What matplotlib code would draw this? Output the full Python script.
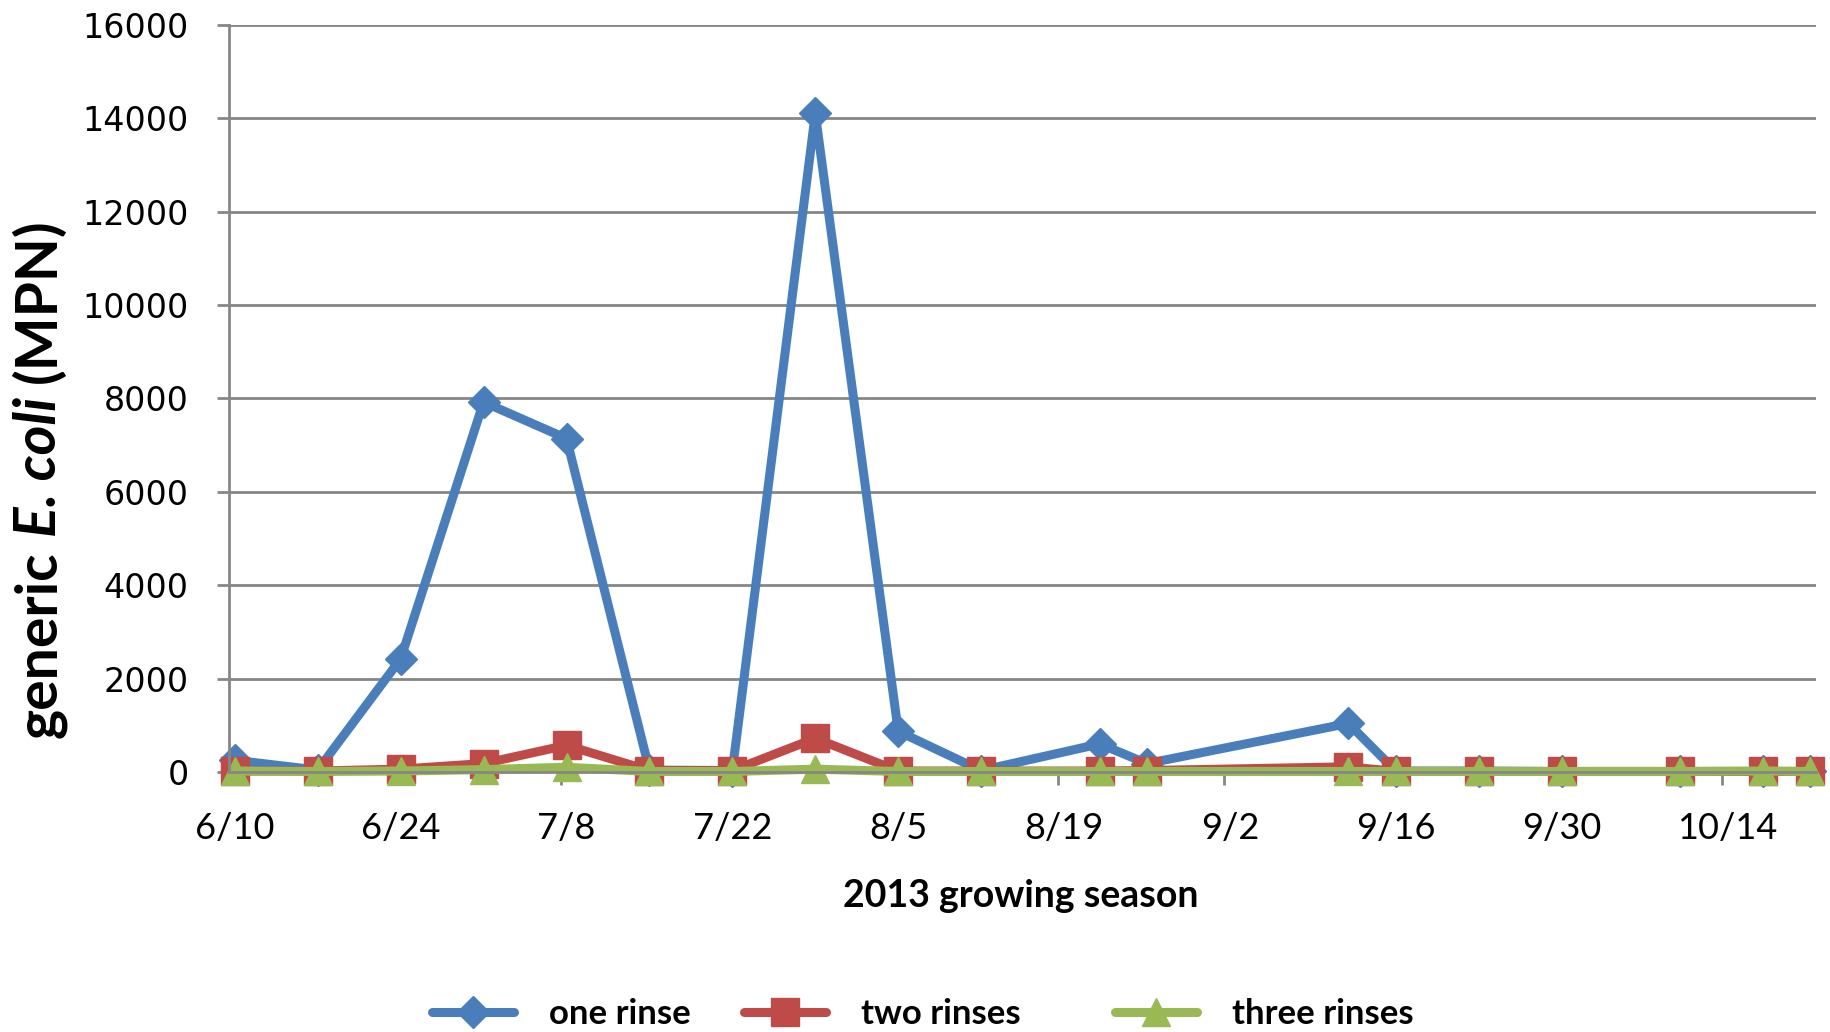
import numpy as np
import pandas as pd
import matplotlib
matplotlib.use("Agg")
import matplotlib.pyplot as plt
import matplotlib.dates as mdates

# sampling dates over the 2013 season
sample_dates = pd.to_datetime([
    "2013-06-10", "2013-06-17", "2013-06-24", "2013-07-01", "2013-07-08",
    "2013-07-15", "2013-07-22", "2013-07-29", "2013-08-05", "2013-08-12",
    "2013-08-22", "2013-08-26", "2013-09-12", "2013-09-16", "2013-09-23",
    "2013-09-30", "2013-10-10", "2013-10-17", "2013-10-21",
])

# generic E. coli counts (MPN)
one_rinse = [250, 40, 2420, 7920, 7140, 40, 30, 14100, 870, 30,
             600, 180, 1040, 20, 20, 10, 10, 10, 10]
two_rinses = [20, 20, 60, 180, 570, 30, 30, 720, 20, 20,
              20, 30, 110, 10, 10, 10, 10, 10, 10]
three_rinses = [20, 10, 20, 50, 100, 10, 10, 60, 10, 10,
                10, 10, 10, 10, 10, 10, 10, 20, 10]

tick_dates = pd.date_range("2013-06-10", "2013-10-14", freq="14D")
tick_labels = [f"{d.month}/{d.day}" for d in tick_dates]
y_ticks = np.arange(0, 16001, 2000)

plt.rcParams["font.family"] = ["Lato", "DejaVu Sans"]

W, H = 1831, 1032
grid_gray = "#868686"

fig = plt.figure(figsize=(W / 100, H / 100), dpi=100)
ax = fig.add_axes([0.125, 0.252, 0.867, 0.724])

# each point sits in the middle of its day
x = mdates.date2num(sample_dates) + 0.5

series = [
    (one_rinse, "one rinse", "#4A7EBB", "D", 16),
    (two_rinses, "two rinses", "#BE4B48", "s", 20),
    (three_rinses, "three rinses", "#98B954", "^", 20),
]
lines = []
for vals, label, color, marker, ms in series:
    ln, = ax.plot(x, vals, color=color, lw=6.5, marker=marker, ms=ms,
                  mfc=color, mec=color, label=label, clip_on=False,
                  solid_capstyle="round", solid_joinstyle="round")
    lines.append(ln)

ax.set_xlim(mdates.date2num(pd.Timestamp("2013-06-10")),
            mdates.date2num(pd.Timestamp("2013-10-22")))
ax.set_ylim(0, 16000)
ax.set_yticks(y_ticks)
ax.yaxis.grid(True, color=grid_gray, lw=2)
ax.set_axisbelow(True)

for side in ["top", "right"]:
    ax.spines[side].set_visible(False)
for side in ["left", "bottom"]:
    ax.spines[side].set_color(grid_gray)
    ax.spines[side].set_linewidth(2)

# tick marks at the dates, labels centred on the day
tick_nums = mdates.date2num(tick_dates)
ax.set_xticks(tick_nums)
ax.set_xticklabels([])
ax.set_xticks(tick_nums + 0.5, minor=True)
ax.set_xticklabels(tick_labels, minor=True)
ax.tick_params(axis="x", which="major", length=9, width=2, color=grid_gray)
ax.tick_params(axis="x", which="minor", length=0, pad=29, labelsize=26)
ax.tick_params(axis="y", length=9, width=2, color=grid_gray, pad=20,
               labelsize=24)
for lbl in ax.get_yticklabels():
    lbl.set_fontfamily("DejaVu Sans")

fig.text(1021 / W, 1 - 896 / H, "2013 growing season",
         ha="center", va="center", fontsize=27, fontweight="bold")

# y label built from pieces so the species name can be italic
renderer = fig.canvas.get_renderer()


def text_width(s, **kw):
    t = fig.text(0, 0, s, **kw)
    w = t.get_window_extent(renderer).width
    t.remove()
    return w


ylab_size = 41
ylab_parts = [("generic", "normal"), ("E. coli", "italic"), ("(MPN)", "normal")]
space = (text_width("n n", fontsize=ylab_size, fontweight="bold")
         - text_width("nn", fontsize=ylab_size, fontweight="bold"))
widths = [text_width(s, fontsize=ylab_size, fontweight="bold", style=st)
          for s, st in ylab_parts]
total = sum(widths) + space * (len(widths) - 1)
pos = 478 + total / 2  # pixel row (from top) where the label starts
for (s, st), w in zip(ylab_parts, widths):
    fig.text(56 / W, 1 - pos / H, s, rotation=90, rotation_mode="anchor",
             ha="left", va="baseline", fontsize=ylab_size,
             fontweight="bold", style=st)
    pos -= w + space

# legend entries laid out along the bottom edge
legend_x = [432, 744, 1115]
for ln, lx in zip(lines, legend_x):
    fig.legend(handles=[ln], loc="center left",
               bbox_to_anchor=(lx / W, 1 - 1014 / H), frameon=False,
               handlelength=2.36, handletextpad=1.0, numpoints=1,
               borderpad=0, borderaxespad=0,
               prop=dict(weight="bold", size=25))

fig.savefig("out.png", dpi=100)
